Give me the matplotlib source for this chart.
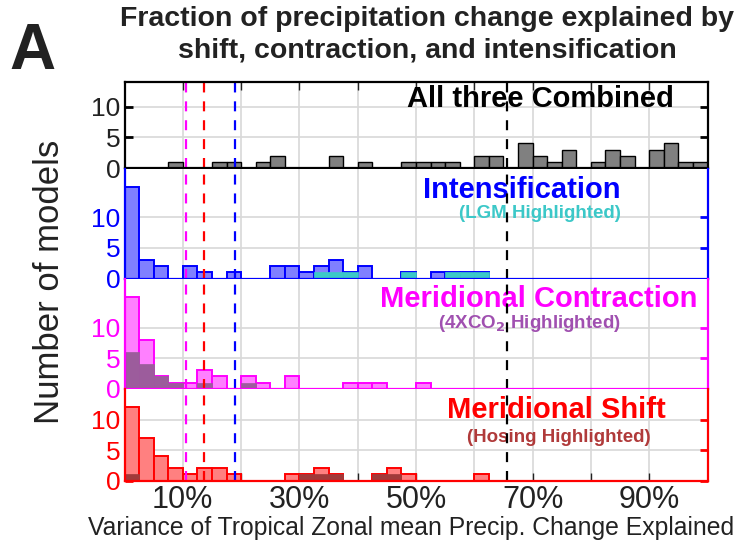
import numpy as np
import matplotlib
matplotlib.use('Agg')
import matplotlib.pyplot as plt

plt.rcParams['font.family'] = ['Liberation Sans', 'DejaVu Sans']

# 2.5% bins from 0 to 100
bin_edges = np.arange(0, 100.1, 2.5)

# counts per bin (40 bins)
combined = [0, 0, 0, 1, 0, 0, 1, 1, 0, 1, 2, 0, 0, 0, 2, 0, 1, 0, 0, 1,
            1, 1, 1, 0, 2, 2, 0, 4, 2, 1, 3, 0, 1, 3, 2, 0, 3, 4, 1, 1]
intensification = [15, 3, 2, 0, 2, 1, 0, 1, 0, 0, 2, 2, 1, 2, 3, 1, 2, 0, 0, 1,
                   0, 1, 1, 1, 1, 0, 0, 0, 0, 0, 0, 0, 0, 0, 0, 0, 0, 0, 0, 0]
lgm = [0, 0, 0, 0, 0, 0, 0, 0, 0, 0, 0, 0, 0, 1, 1, 1, 0, 0, 0, 1,
       0, 0, 1, 1, 1, 0, 0, 0, 0, 0, 0, 0, 0, 0, 0, 0, 0, 0, 0, 0]
contraction = [15, 8, 2, 1, 1, 3, 2, 0, 2, 1, 0, 2, 0, 0, 0, 1, 1, 1, 0, 0,
               1, 0, 0, 0, 0, 0, 0, 0, 0, 0, 0, 0, 0, 0, 0, 0, 0, 0, 0, 0]
co2x4 = [6, 4, 2, 1, 0, 1, 0, 0, 1, 0, 0, 0, 0, 0, 0, 0, 0, 0, 0, 0,
         0, 0, 0, 0, 0, 0, 0, 0, 0, 0, 0, 0, 0, 0, 0, 0, 0, 0, 0, 0]
shift = [12, 7, 4, 2, 1, 2, 2, 1, 0, 0, 0, 1, 1, 2, 1, 0, 0, 1, 2, 1,
         0, 0, 0, 0, 1, 0, 0, 0, 0, 0, 0, 0, 0, 0, 0, 0, 0, 0, 0, 0]
hosing = [1, 0, 0, 0, 0, 0, 0, 0, 0, 0, 0, 0, 1, 1, 1, 0, 0, 1, 1, 0,
          0, 0, 0, 0, 0, 0, 0, 0, 0, 0, 0, 0, 0, 0, 0, 0, 0, 0, 0, 0]

# reference lines (%)
line_pos = [10.5, 13.7, 19.0, 65.6]
line_colors = ['#ff00ff', '#ff0000', '#0000ff', '#000000']

xticks_all = [10, 20, 30, 40, 50, 60, 70, 80, 90]
xtick_labels = ['10%', '', '30%', '', '50%', '', '70%', '', '90%']

W, H = 750, 550
fig = plt.figure(figsize=(7.5, 5.5), dpi=100)

def px_axes(top, bottom):
    left, right = 124.5, 707.5
    return fig.add_axes([left / W, 1 - bottom / H, (right - left) / W, (bottom - top) / H])

panels = [
    dict(top=82, bottom=168, ymax=14, col='#000000', face='#808080', edge='#000000',
         data=combined, hl=None, hlcol=None, title='All three Combined', tx=71.3, ty=11.2,
         sub=None),
    dict(top=168.5, bottom=278.5, ymax=18, col='#0000ff', face='#8080ff', edge='#0000ff',
         data=intensification, hl=lgm, hlcol='#3cc8c8', title='Intensification', tx=68.2, ty=14.4,
         sub='(LGM Highlighted)', sx=71.3, sy=10.7, subcol='#3cc8c8'),
    dict(top=278.7, bottom=388.7, ymax=18, col='#ff00ff', face='#ff80ff', edge='#ff00ff',
         data=contraction, hl=co2x4, hlcol='#9c5c9c', title='Meridional Contraction', tx=71.1, ty=14.6,
         sub='(4XCO$_\\mathbf{2}$ Highlighted)', sx=69.5, sy=10.6, subcol='#a050b0'),
    dict(top=389, bottom=480.5, ymax=15, col='#ff0000', face='#ff8080', edge='#ff0000',
         data=shift, hl=hosing, hlcol='#a03a3a', title='Meridional Shift', tx=74.0, ty=11.5,
         sub='(Hosing Highlighted)', sx=74.5, sy=7.0, subcol='#b03a3a'),
]

axes = []
for i, p in enumerate(panels):
    ax = px_axes(p['top'], p['bottom'])
    axes.append(ax)
    ax.set_xlim(0, 100)
    ax.set_ylim(0, p['ymax'])
    ax.set_xticks(xticks_all)
    ax.set_yticks([0, 5, 10])
    ax.grid(True, color='#d8d8d8', linewidth=1.2, zorder=0)
    ax.set_axisbelow(True)

    lw = 1.0 if i == 0 else 1.4
    ax.bar(bin_edges[:-1], p['data'], width=2.5, align='edge', color=p['face'],
           edgecolor=p['edge'], linewidth=lw, zorder=2)
    if p['hl'] is not None:
        ax.bar(bin_edges[:-1], p['hl'], width=2.5, align='edge', color=p['hlcol'],
               edgecolor=p['hlcol'], linewidth=0.5, zorder=3)

    for xv, c in zip(line_pos, line_colors):
        ax.axvline(xv, color=c, linewidth=1.6, dashes=(4.5, 4), zorder=4)

    ax.text(p['tx'], p['ty'], p['title'], color=p['col'], fontsize=21, fontweight='bold',
            ha='center', va='center', zorder=3)
    if p['sub']:
        ax.text(p['sx'], p['sy'], p['sub'], color=p['subcol'], fontsize=13.5, fontweight='bold',
                ha='center', va='center', zorder=3)

    for side in ['left', 'right', 'bottom', 'top']:
        ax.spines[side].set_color(p['col'])
        ax.spines[side].set_linewidth(1.6)
        ax.spines[side].set_zorder(5)
    if i > 0:
        ax.spines['top'].set_visible(False)

    ax.tick_params(axis='y', which='both', direction='in', length=6, width=2,
                   color=p['col'], labelcolor=p['col'] if i > 0 else '#222222',
                   left=True, right=True, labelsize=19, pad=3)
    ax.tick_params(axis='x', direction='in', length=6, width=1, color='#222222',
                   top=(i == 0), bottom=(i == 3), labelbottom=False)

# x tick labels only on the bottom panel
ax_b = axes[-1]
ax_b.set_xticklabels(xtick_labels)
ax_b.tick_params(axis='x', labelbottom=True, labelsize=22, labelcolor='#222222', pad=3)

fig.text(411 / W, 1 - 528 / H, 'Variance of Tropical Zonal mean Precip. Change Explained',
         fontsize=17.8, color='#222222', ha='center', va='center')

fig.text(50 / W, 1 - 282 / H, 'Number of models', rotation=90, fontsize=25,
         color='#222222', ha='center', va='center')

fig.text(427 / W, 1 - 19 / H, 'Fraction of precipitation change explained by',
         fontsize=20.5, fontweight='bold', color='#222222', ha='center', va='center')
fig.text(427 / W, 1 - 51 / H, 'shift, contraction, and intensification',
         fontsize=20.5, fontweight='bold', color='#222222', ha='center', va='center')
fig.text(32 / W, 1 - 52 / H, 'A', fontsize=46, fontweight='bold', color='#222222',
         ha='center', va='center')

fig.savefig('out.png', dpi=100)
